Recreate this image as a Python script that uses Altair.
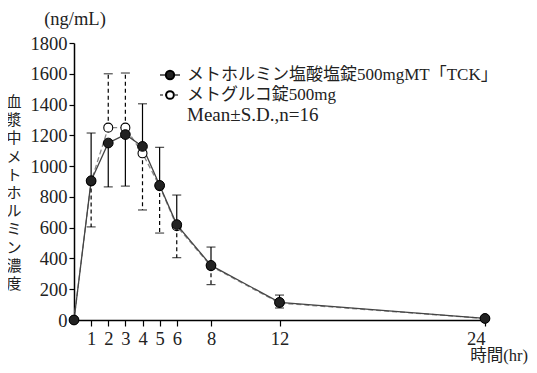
import altair as alt
import pandas as pd

# ---- data ----
times = [0, 1, 2, 3, 4, 5, 6, 8, 12, 24]
test_mean = [0, 905, 1150, 1205, 1128, 875, 620, 355, 115, 10]
ref_mean = [0, 900, 1250, 1250, 1083, 870, 610, 350, 110, 10]
err_times = [1, 2, 3, 4, 5, 6, 8, 12]
test_err_end = [1215, 865, 870, 1405, 1122, 812, 474, 162]
ref_err_end = [605, 1600, 1605, 715, 565, 405, 230, 78]
x_ticks = [1, 2, 3, 4, 5, 6, 8, 12, 24]
y_ticks = [0, 200, 400, 600, 800, 1000, 1200, 1400, 1600, 1800]
test_name = "メトホルミン塩酸塩錠500mgMT「TCK」"
ref_name = "メトグルコ錠500mg"
note_text = "Mean±S.D.,n=16"
y_unit = "(ng/mL)"
y_title = "血漿中メトホルミン濃度"
x_title = "時間(hr)"

FONT = "Liberation Serif, Noto Sans CJK JP"
TXT = "#222222"

test_df = pd.DataFrame({"t": times, "v": test_mean})
ref_df = pd.DataFrame({"t": times, "v": ref_mean})
tm = dict(zip(times, test_mean))
rm = dict(zip(times, ref_mean))
test_err = pd.DataFrame({"t": err_times, "m": [tm[t] for t in err_times], "e": test_err_end})
ref_err = pd.DataFrame({"t": err_times, "m": [rm[t] for t in err_times], "e": ref_err_end})

xs = alt.Scale(domain=[0, 24], nice=False, zero=False)
ys = alt.Scale(domain=[0, 1800], nice=False)

xaxis = alt.Axis(values=x_ticks, title=None, grid=False, labelFontSize=18.5, labelFont=FONT,
                 labelColor=TXT, tickSize=6, tickColor="#000", domainColor="#000",
                 domainWidth=1.5, tickWidth=1.2, labelPadding=3, labelOverlap=False, format="d")
yaxis = alt.Axis(values=y_ticks, title=None, grid=False, labelFontSize=18.5, labelFont=FONT,
                 labelColor=TXT, tickSize=5, tickColor="#000", domainColor="#000",
                 domainWidth=1.5, tickWidth=1.2, labelPadding=2, labelOverlap=False, format="d",
                 labelBound=False, labelFlush=False)

X = alt.X("t:Q", scale=xs, axis=xaxis)
Y = alt.Y("v:Q", scale=ys, axis=yaxis)
YM = alt.Y("m:Q", scale=ys, axis=yaxis)
YE = alt.Y("e:Q", scale=ys, axis=yaxis)

ref_line = alt.Chart(ref_df).mark_line(color="#888888", strokeDash=[5, 3], strokeWidth=1.3).encode(x=X, y=Y)
test_line = alt.Chart(test_df).mark_line(color="#444444", strokeWidth=1.3).encode(x=X, y=Y)

test_bar = alt.Chart(test_err).mark_rule(color="#000", strokeWidth=1.2).encode(x=X, y=YM, y2="e:Q")
test_cap = alt.Chart(test_err).mark_tick(color="#000", orient="horizontal", size=9, thickness=1.2).encode(x=X, y=YE)
ref_bar = alt.Chart(ref_err).mark_rule(color="#000", strokeWidth=1.2, strokeDash=[4, 3]).encode(x=X, y=YM, y2="e:Q")
ref_cap = alt.Chart(ref_err).mark_tick(color="#000", orient="horizontal", size=9, thickness=1.2).encode(x=X, y=YE)

ref_pts = alt.Chart(ref_df).mark_point(shape="circle", filled=True, fill="white", stroke="#000",
                                       strokeWidth=1.1, size=80, opacity=1).encode(x=X, y=Y)
test_pts = alt.Chart(test_df).mark_point(shape="circle", filled=True, fill="#222", stroke="#000",
                                         strokeWidth=1, size=95, opacity=1).encode(x=X, y=Y)

# ---- annotations / legend ----
unit_txt = alt.Chart().mark_text(text=y_unit, font=FONT, fontSize=18.5, color=TXT, align="center",
                                 baseline="middle").encode(x=alt.value(1), y=alt.value(-24))
ytitle_chars = [
    alt.Chart().mark_text(text=ch, font="Noto Sans CJK JP", fontSize=15, color=TXT, align="center",
                          baseline="middle").encode(x=alt.value(-60), y=alt.value(59 + 18.2 * i))
    for i, ch in enumerate(y_title)
]
xtitle_txt = alt.Chart().mark_text(text=x_title, font=FONT, fontSize=16.5, color=TXT, align="right",
                                   baseline="middle").encode(x=alt.value(454), y=alt.value(313))

leg_line1 = alt.Chart().mark_rule(color="#000", strokeWidth=1.2).encode(
    x=alt.value(86), x2=alt.value(106), y=alt.value(32))
leg_pt1 = alt.Chart().mark_point(shape="circle", filled=True, fill="#222", stroke="#000", size=70,
                                 opacity=1).encode(x=alt.value(96), y=alt.value(32))
leg_line2 = alt.Chart().mark_rule(color="#000", strokeWidth=1.2, strokeDash=[3, 2]).encode(
    x=alt.value(86), x2=alt.value(106), y=alt.value(52))
leg_pt2 = alt.Chart().mark_point(shape="circle", filled=True, fill="white", stroke="#000", size=60,
                                 opacity=1).encode(x=alt.value(96), y=alt.value(52))
leg_t1 = alt.Chart().mark_text(text=test_name, font=FONT, fontSize=17, color=TXT, align="left",
                               baseline="middle").encode(x=alt.value(113), y=alt.value(32))
leg_t2 = alt.Chart().mark_text(text=ref_name, font=FONT, fontSize=17, color=TXT, align="left",
                               baseline="middle").encode(x=alt.value(113), y=alt.value(52))
leg_t3 = alt.Chart().mark_text(text=note_text, font=FONT, fontSize=19, color=TXT, align="left",
                               baseline="middle").encode(x=alt.value(113), y=alt.value(72))

chart = alt.layer(
    ref_line, test_line, test_bar, test_cap, ref_bar, ref_cap, ref_pts, test_pts,
    unit_txt, *ytitle_chars, xtitle_txt,
    leg_line1, leg_pt1, leg_line2, leg_pt2, leg_t1, leg_t2, leg_t3,
).properties(
    width=411, height=277,
    autosize=alt.AutoSizeParams(type="none"),
    padding={"left": 66, "top": 35, "right": 44, "bottom": 45},
    background="white",
).configure_view(stroke=None)

chart.save("out.html", embed_options={"renderer": "svg", "actions": False})
